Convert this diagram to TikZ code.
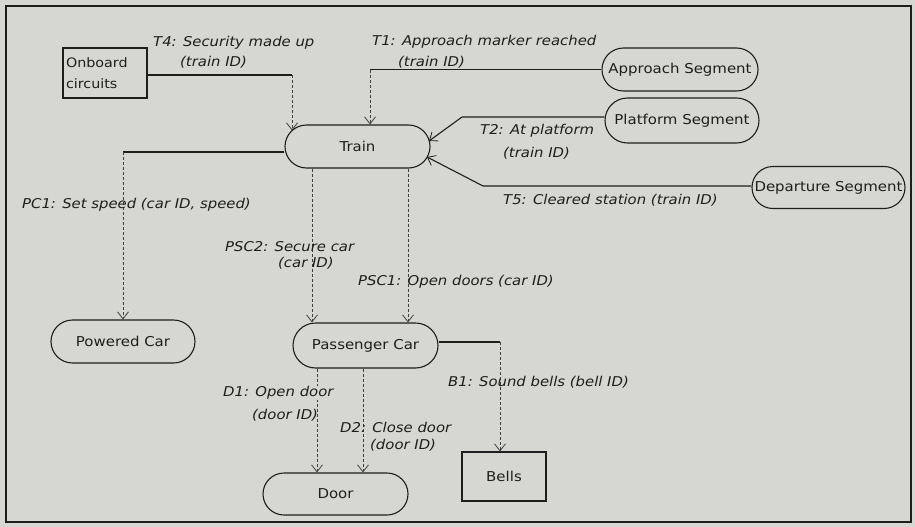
\documentclass[tikz,border=0pt]{standalone}
\usepackage{fontspec}
\setmainfont{DejaVu Sans}[FakeStretch=1.1]
\usetikzlibrary{arrows.meta,shapes.misc}
\definecolor{paper}{RGB}{214,214,210}
\definecolor{ink}{RGB}{30,30,30}
\begin{document}
\begin{tikzpicture}[x=1pt,y=-1pt,
  obj/.style={draw=ink, line width=1.1pt, rounded rectangle, minimum height=43pt, inner sep=0pt, text=ink, font=\fontsize{13.6}{15}\selectfont},
  term/.style={draw=ink, line width=1.1pt, rectangle, inner sep=0pt, text=ink, font=\fontsize{13.6}{15}\selectfont},
  lbl/.style={anchor=west, inner sep=0pt, text=ink, font=\fontsize{13.5}{15}\selectfont\itshape},
  sol/.style={draw=ink, line width=1.1pt},
  tip/.style={-{Straight Barb[length=7pt,width=11pt,line width=0.8pt]}},
  dsh/.style={draw=ink!85, line width=0.8pt, dash pattern=on 3pt off 2pt, tip}
]
\fill[paper] (0,0) rectangle (915,527);
\useasboundingbox (0,0) rectangle (915,527);
\draw[ink, line width=1.6pt] (6,6) rectangle (911,522);

% objects
\node[obj, minimum width=145pt] (train) at (357.5,146.5) {Train};
\node[obj, minimum width=156pt] (appr) at (680,69.5) {Approach Segment};
\node[obj, minimum width=154pt, minimum height=45pt] (plat) at (682,120.5) {Platform Segment};
\node[obj, minimum width=153pt, minimum height=42pt] (dep) at (828.5,187.5) {Departure Segment};
\node[obj, minimum width=144pt] (pow) at (123,341.5) {Powered Car};
\node[obj, minimum width=145pt, minimum height=45pt] (pass) at (365.5,345.5) {Passenger Car};
\node[obj, minimum width=145pt, minimum height=42pt] (door) at (335.5,494) {Door};
\node[term, minimum width=84pt, minimum height=50pt, text width=78pt, align=left, font=\fontsize{13}{21}\selectfont] (onb) at (105,73) {Onboard\\circuits};
\node[term, minimum width=84pt, minimum height=49pt] (bells) at (504,476.5) {Bells};

% bend points and ends
\coordinate (t4k) at (292,75);
\coordinate (t4e) at (292,130.5);
\coordinate (t1k) at (370,69.5);
\coordinate (t2k) at (462,117);
\coordinate (t2e) at (429,141);
\coordinate (t5k) at (483,186);
\coordinate (t5e) at (427,157);
\coordinate (pck) at (123,152);
\coordinate (psc2) at (312,0);
\coordinate (psc1) at (408,0);
\coordinate (b1k) at (500,342);
\coordinate (d1) at (317,0);
\coordinate (d2) at (363,0);

% connectors
\draw[sol] (onb.east |- t4k) -- (t4k);
\draw[dsh] (t4k) -- (t4e);
\draw[sol] (appr.west) -- (t1k);
\draw[dsh] (t1k) -- (t1k |- train.north);
\draw[sol, tip] (plat.west |- t2k) -- (t2k) -- (t2e);
\draw[sol, tip] (dep.west |- t5k) -- (t5k) -- (t5e);
\draw[sol] (train.west |- pck) -- (pck);
\draw[dsh] (pck) -- (pow.north);
\draw[dsh] (psc2 |- train.south) -- (psc2 |- pass.north);
\draw[dsh] (psc1 |- train.south) -- (psc1 |- pass.north);
\draw[sol] (pass.east |- b1k) -- (b1k);
\draw[dsh] (b1k) -- (b1k |- bells.north);
\draw[dsh] (d1 |- pass.south) -- (d1 |- door.north);
\draw[dsh] (d2 |- pass.south) -- (d2 |- door.north);

% labels
\node[lbl] (t4a) at (153,43) {T4: Security made up};
\node[lbl] (t4b) at (180,62) {(train ID)};
\node[lbl] (t1a) at (372,42) {T1: Approach marker reached};
\node[lbl] (t1b) at (398,62) {(train ID)};
\node[lbl] (t2a) at (480,131) {T2: At platform};
\node[lbl] (t2b) at (503,153) {(train ID)};
\node[lbl] (t5a) at (503,200) {T5: Cleared station (train ID)};
\node[lbl] (pca) at (22,205) {PC1: Set speed (car ID, speed)};
\node[lbl] (psc2a) at (225,247) {PSC2: Secure car};
\node[lbl] (psc2b) at (278,263) {(car ID)};
\node[lbl] (psc1a) at (358,282) {PSC1: Open doors (car ID)};
\node[lbl] (b1a) at (448,382) {B1: Sound bells (bell ID)};
\node[lbl, fill=paper] (d1a) at (223,393) {D1: Open door};
\node[lbl] (d1b) at (252,415) {(door ID)};
\node[lbl] (d2a) at (340,427) {D2: Close door};
\node[lbl] (d2b) at (370,445) {(door ID)};
\end{tikzpicture}
\end{document}
